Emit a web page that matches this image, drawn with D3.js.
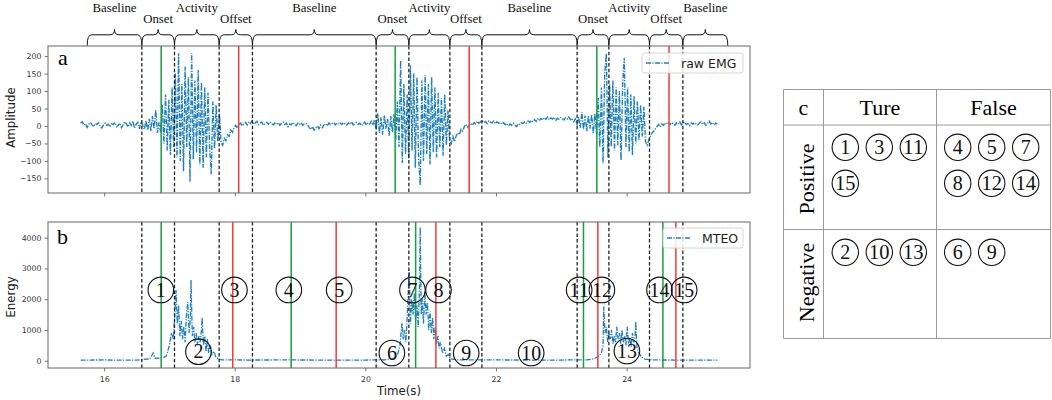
<!DOCTYPE html>
<html><head><meta charset="utf-8">
<script src="https://cdn.jsdelivr.net/npm/d3@7"></script>
<style>body{margin:0;background:#fff} svg{display:block}</style>
</head><body><svg id="c" width="1052" height="400"></svg>
<script>
// ---------------- data ----------------
const xDomain = [15.14, 25.89];
const ampDomain = [-192, 229];
const energyDomain = [-237, 4510];
const xTicks = [16, 18, 20, 22, 24];
const ampTicks = [-150, -100, -50, 0, 50, 100, 150, 200];
const energyTicks = [0, 1000, 2000, 3000, 4000];

const segmentBounds = [15.74, 16.577, 17.077, 17.761, 18.271, 20.165, 20.666, 21.294, 21.784, 23.243, 23.729, 24.351, 24.862, 25.55];
const segmentLabels = ["Baseline", "Onset", "Activity", "Offset", "Baseline", "Onset", "Activity", "Offset", "Baseline", "Onset", "Activity", "Offset", "Baseline"];
const boundaryTimes = [16.577, 17.077, 17.761, 18.271, 20.165, 20.666, 21.294, 21.784, 23.243, 23.729, 24.351, 24.862];
const onsetA = [16.873, 20.456, 23.545];
const offsetA = [18.06, 21.59, 24.65];
const onsetB = [16.873, 18.864, 20.77, 23.34, 24.556];
const offsetB = [17.97, 19.553, 21.08, 23.56, 24.755];

const emgStart = 15.64, emgStep = 0.025;
const emgValues = [
  8, 12, 2, 6, -4, 5, 10, 3, -2, 7, 4, 9, 0, -6, 3, 8, 2, 5, -3, 6,
  4, 10, -2, 1, 8, -5, 3, 12, 6, -3, 9, 2, 14, -6, 5, 10, -8, 12, 3, -10,
  15, -12, 20, -15, 28, -8, 45, -20, 10, -18, 60, -50, 90, -70, 75, -83, 110, -60, 150, -90,
  208, -100, 120, -130, 170, -60, 140, -160, 208, -95, 130, -75, 160, -110, 125, -120, 110, -90, 95, -60,
  -138, 70, -65, 60, -45, 35, -48, -55, -35, -42, -25, -30, -12, -18, -5, 2, -6, 4, 8, 0,
  6, 10, 3, 12, 7, 15, 5, 9, 13, 4, 8, 11, 2, 7, 10, 5, 12, 6, 3, 8,
  5, 9, 2, 7, 11, 4, 8, -2, 6, 3, 10, 5, 1, 8, 4, 9, 2, 6, 7, 3,
  -4, -10, -2, -12, -6, 0, -8, 2, -5, 3, 6, 0, 8, 4, 7, 10, 3, 9, 5, 8,
  4, 10, 6, 2, 9, 5, 12, 3, 7, 10, 4, 8, 1, 6, 11, 3, 9, 5, 14, 2,
  18, -10, 36, -20, 25, -25, 30, -8, 20, -28, 28, -18, 35, -40, 70, -60, 188, -106, 120, -80,
  90, -95, 174, -70, 150, -120, 140, -90, -170, 130, -100, 145, -80, 120, -110, 140, -75, 110, -90, 95,
  -60, 80, -85, 90, -55, 45, -40, -50, -30, -45, -28, -20, -25, -10, -15, -2, 5, -4, 3, 8,
  2, 10, 6, 14, 8, 12, 16, 10, 13, 7, 15, 11, 9, 14, 6, 12, 8, 10, 5, 9,
  4, 7, 0, 5, 2, 8, 3, -2, 6, 4, 9, 7, 12, 8, 14, 10, 16, 12, 18, 13,
  20, 15, 22, 17, 24, 19, 26, 18, 23, 20, 25, 16, 22, 19, 24, 21, 17, 23, 20, 26,
  18, 22, 12, 20, 5, 25, -5, 40, -10, 30, -15, 28, -8, 32, -20, 35, -25, 80, -60, 110,
  -107, 150, 208, -90, 120, -60, 130, -70, 110, -55, 100, -98, 120, 195, -60, 110, -75, 90, -83, 85,
  -50, 70, -40, 60, -30, 55, -45, -55, -40, -30, -20, -15, -8, -2, 4, -3, 6, 2, 9, 5,
  8, 4, 10, 6, 2, 9, 5, 12, 3, 8, 11, 4, 7, 1, 9, 5, 10, 6, 3, 8,
  12, 5, 9, 2, 7, 14, 6, 10, 3, 8, 5
];

const mteoSamples = [
  [15.64, 20], [16.0, 25], [16.3, 18], [16.5, 22], [16.7, 60], [16.75, 250], [16.78, 80], [16.9, 90], [16.95, 150],
  [17.0, 500], [17.03, 900], [17.06, 700], [17.08, 1400], [17.1, 2300], [17.12, 1200], [17.14, 1800], [17.16, 800],
  [17.18, 1300], [17.2, 700], [17.22, 1100], [17.24, 600], [17.26, 1500], [17.28, 1900], [17.3, 900], [17.32, 1400],
  [17.33, 2620], [17.35, 800], [17.37, 1100], [17.39, 600], [17.41, 900], [17.43, 500], [17.45, 800], [17.47, 600],
  [17.49, 1000], [17.5, 1390], [17.52, 500], [17.54, 800], [17.56, 300], [17.58, 700], [17.6, 250], [17.62, 500],
  [17.65, 200], [17.68, 300], [17.71, 120], [17.75, 60], [17.8, 30], [18.2, 22], [18.8, 25], [19.5, 20], [20.0, 22],
  [20.3, 30], [20.45, 80], [20.5, 250], [20.53, 500], [20.56, 1220], [20.58, 700], [20.6, 1000], [20.62, 600],
  [20.64, 1400], [20.67, 2950], [20.69, 1200], [20.71, 2000], [20.73, 1500], [20.75, 2200], [20.77, 1300],
  [20.79, 1800], [20.81, 1100], [20.83, 2500], [20.84, 4340], [20.855, 1500], [20.87, 2000], [20.89, 1200],
  [20.91, 2260], [20.93, 1500], [20.95, 1900], [20.97, 1000], [20.99, 1600], [21.01, 900], [21.03, 1400],
  [21.05, 700], [21.07, 1100], [21.09, 550], [21.11, 800], [21.13, 400], [21.15, 600], [21.18, 250], [21.21, 400],
  [21.24, 150], [21.27, 200], [21.3, 60], [21.4, 30], [22.0, 25], [22.6, 20], [23.0, 22], [23.4, 30], [23.5, 60],
  [23.58, 150], [23.62, 300], [23.64, 500], [23.65, 1760], [23.67, 900], [23.69, 1100], [23.71, 600], [23.73, 900],
  [23.75, 700], [23.77, 1000], [23.79, 550], [23.81, 800], [23.83, 600], [23.85, 1100], [23.87, 700], [23.89, 900],
  [23.91, 550], [23.93, 1000], [23.95, 600], [23.97, 800], [23.99, 500], [24.01, 1100], [24.03, 550], [24.05, 750],
  [24.07, 450], [24.09, 900], [24.11, 600], [24.13, 800], [24.14, 1270], [24.16, 400], [24.19, 250], [24.23, 120],
  [24.28, 50], [24.4, 25], [25.0, 20], [25.39, 20]
];

const markerIds = [1, 2, 3, 4, 5, 6, 7, 8, 9, 10, 11, 12, 13, 14, 15];
const markerTimes = [16.868, 17.444, 17.995, 18.828, 19.599, 20.406, 20.721, 21.12, 21.544, 22.539, 23.274, 23.622, 24.005, 24.504, 24.882];
const markerEnergy = [2300, 293, 2300, 2300, 2300, 250, 2300, 2300, 250, 250, 2300, 2300, 315, 2300, 2300];

const tableCols = ["Ture", "False"];
const tableRows = ["Positive", "Negative"];
const truePositive = [1, 3, 11, 15];
const falsePositive = [4, 5, 7, 8, 12, 14];
const trueNegative = [2, 10, 13];
const falseNegative = [6, 9];

// ---------------- drawing ----------------
const svg = d3.select("#c");
const SERIF = "'Liberation Serif','Times New Roman',serif";
const SANS = "'DejaVu Sans',sans-serif";
const sigColor = "#1f80c0", green = "#13a040", red = "#f23a3a";
const L = 48, R = 750;
const panelA = {top: 46, bottom: 193};
const panelB = {top: 222, bottom: 368};

const x = d3.scaleLinear().domain(xDomain).range([L, R]);
const yA = d3.scaleLinear().domain(ampDomain).range([panelA.bottom, panelA.top]);
const yB = d3.scaleLinear().domain(energyDomain).range([panelB.bottom, panelB.top]);

function styleAxis(g) {
  g.select(".domain").remove();
  g.selectAll(".tick line").attr("stroke", "#555").attr("stroke-width", 0.8);
  g.selectAll(".tick text").attr("fill", "#333").style("font-family", SANS).style("font-size", "7.8px");
}

function clipFor(id, p) {
  svg.append("clipPath").attr("id", id).append("rect")
    .attr("x", L).attr("y", p.top).attr("width", R - L).attr("height", p.bottom - p.top);
}
clipFor("clipA", panelA); clipFor("clipB", panelB);

function vlines(g, times, p, color, dashed) {
  g.selectAll(null).data(times).enter().append("line")
    .attr("x1", d => x(d)).attr("x2", d => x(d))
    .attr("y1", p.top).attr("y2", p.bottom)
    .attr("stroke", color).attr("stroke-width", dashed ? 1.3 : 1.5)
    .attr("stroke-dasharray", dashed ? "3.5,2.2" : null);
}

// Panel A
const gA = svg.append("g");
const emgData = emgValues.map((v, i) => [emgStart + i * emgStep, v]);
gA.append("path").datum(emgData).attr("clip-path", "url(#clipA)")
  .attr("d", d3.line().x(d => x(d[0])).y(d => yA(d[1])))
  .attr("fill", "none").attr("stroke", sigColor).attr("stroke-width", 1.4)
  .attr("stroke-dasharray", "5,1.4,1.2,1.4");
vlines(gA, boundaryTimes, panelA, "#222", true);
vlines(gA, onsetA, panelA, green, false);
vlines(gA, offsetA, panelA, red, false);
gA.append("g").attr("transform", `translate(${L},0)`)
  .call(d3.axisLeft(yA).tickValues(ampTicks).tickSize(3.5).tickPadding(3).tickFormat(d3.format("d"))).call(styleAxis);
gA.append("g").attr("transform", `translate(0,${panelA.bottom})`)
  .call(d3.axisBottom(x).tickValues(xTicks).tickSize(3.5).tickFormat("")).call(styleAxis);
gA.append("rect").attr("x", L).attr("y", panelA.top).attr("width", R - L).attr("height", panelA.bottom - panelA.top)
  .attr("fill", "none").attr("stroke", "#666").attr("stroke-width", 1);
gA.append("text").attr("x", 58).attr("y", 65).text("a")
  .style("font-family", SERIF).style("font-size", "22px");
gA.append("text").attr("transform", `translate(15,${(panelA.top + panelA.bottom) / 2 - 2}) rotate(-90)`)
  .attr("text-anchor", "middle").text("Amplitude").style("font-family", SANS).style("font-size", "11.8px").attr("fill", "#222");

// legend
function legend(g, lx, ly, w, h, label) {
  g.append("rect").attr("x", lx).attr("y", ly).attr("width", w).attr("height", h).attr("rx", 2.5)
    .attr("fill", "#fff").attr("fill-opacity", 0.85).attr("stroke", "#d0d0d0").attr("stroke-width", 0.9);
  g.append("line").attr("x1", lx + 4).attr("x2", lx + 27).attr("y1", ly + h / 2).attr("y2", ly + h / 2)
    .attr("stroke", sigColor).attr("stroke-width", 1.3).attr("stroke-dasharray", "5,1.4,1.2,1.4");
  g.append("text").attr("x", lx + 39).attr("y", ly + h / 2 + 4.5).text(label)
    .style("font-family", SANS).style("font-size", "12.5px").attr("fill", "#222");
}
legend(gA, 642, 53, 101, 20, "raw EMG");

// Braces
const gBr = svg.append("g");
function bracePath(x1, x2) {
  const yb = 45.5, yh = 34.8, yt = 29.5, m = (x1 + x2) / 2, q = 4.5;
  return `M${x1},${yb} Q${x1},${yh} ${x1 + q},${yh} L${m - q},${yh} Q${m},${yh} ${m},${yt} Q${m},${yh} ${m + q},${yh} L${x2 - q},${yh} Q${x2},${yh} ${x2},${yb}`;
}
segmentLabels.forEach((lab, i) => {
  const x1 = x(segmentBounds[i]), x2 = x(segmentBounds[i + 1]);
  gBr.append("path").attr("d", bracePath(x1, x2)).attr("fill", "none").attr("stroke", "#111").attr("stroke-width", 1);
  const top = (lab === "Baseline" || lab === "Activity");
  gBr.append("text").attr("x", (x1 + x2) / 2).attr("y", top ? 11.5 : 23).attr("text-anchor", "middle")
    .text(lab).style("font-family", SERIF).style("font-size", "12.8px").attr("fill", "#111");
});

// Panel B
const gB = svg.append("g");
gB.append("path").datum(mteoSamples).attr("clip-path", "url(#clipB)")
  .attr("d", d3.line().x(d => x(d[0])).y(d => yB(d[1])))
  .attr("fill", "none").attr("stroke", sigColor).attr("stroke-width", 1.3)
  .attr("stroke-dasharray", "5,1.4,1.2,1.4");
vlines(gB, boundaryTimes, panelB, "#222", true);
vlines(gB, onsetB, panelB, green, false);
vlines(gB, offsetB, panelB, red, false);
gB.append("g").attr("transform", `translate(${L},0)`)
  .call(d3.axisLeft(yB).tickValues(energyTicks).tickSize(3.5).tickPadding(3).tickFormat(d3.format("d"))).call(styleAxis);
gB.append("g").attr("transform", `translate(0,${panelB.bottom})`)
  .call(d3.axisBottom(x).tickValues(xTicks).tickSize(3.5).tickPadding(5).tickFormat(d3.format("d"))).call(styleAxis);
gB.append("rect").attr("x", L).attr("y", panelB.top).attr("width", R - L).attr("height", panelB.bottom - panelB.top)
  .attr("fill", "none").attr("stroke", "#666").attr("stroke-width", 1);
gB.append("text").attr("x", 57).attr("y", 244).text("b")
  .style("font-family", SERIF).style("font-size", "22px");
gB.append("text").attr("transform", `translate(15,${(panelB.top + panelB.bottom) / 2 + 2}) rotate(-90)`)
  .attr("text-anchor", "middle").text("Energy").style("font-family", SANS).style("font-size", "11.8px").attr("fill", "#222");
gB.append("text").attr("x", (L + R) / 2).attr("y", 395).attr("text-anchor", "middle").text("Time(s)")
  .style("font-family", SANS).style("font-size", "11.8px").attr("fill", "#222");
legend(gB, 663, 228, 80, 20, "MTEO");

function circled(g, cx, cy, n, r, fs) {
  g.append("circle").attr("cx", cx).attr("cy", cy).attr("r", r).attr("fill", "none").attr("stroke", "#111").attr("stroke-width", 1.1);
  const t = g.append("text").attr("x", cx).attr("y", cy).attr("dy", "0.34em").attr("text-anchor", "middle")
    .text(n).style("font-family", SERIF).style("font-size", fs + "px").attr("fill", "#111");
  if (String(n).length > 1) t.attr("textLength", r * 1.55).attr("lengthAdjust", "spacingAndGlyphs");
}
markerIds.forEach((n, i) => circled(gB, x(markerTimes[i]), yB(markerEnergy[i]), n, 12.8, 20));

// Table c
const gT = svg.append("g");
const colX = [783.5, 823.5, 936.5, 1050.5];
const rowY = [89.5, 125, 229.5, 338.5];
colX.forEach(cx => gT.append("line").attr("x1", cx).attr("x2", cx).attr("y1", rowY[0]).attr("y2", rowY[3]).attr("stroke", "#9a9a9a").attr("stroke-width", 1));
rowY.forEach(ry => gT.append("line").attr("x1", colX[0]).attr("x2", colX[3]).attr("y1", ry).attr("y2", ry).attr("stroke", "#9a9a9a").attr("stroke-width", 1));
gT.append("text").attr("x", (colX[0] + colX[1]) / 2).attr("y", 115).attr("text-anchor", "middle").text("c")
  .style("font-family", SERIF).style("font-size", "22px");
tableCols.forEach((c, i) => gT.append("text").attr("x", (colX[i + 1] + colX[i + 2]) / 2).attr("y", 115)
  .attr("text-anchor", "middle").text(c).style("font-family", SERIF).style("font-size", "22px"));
const rowCenters = [179, 282.5];
tableRows.forEach((r, i) => gT.append("text").attr("transform", `translate(813.5,${rowCenters[i]}) rotate(-90)`)
  .attr("text-anchor", "middle").text(r).style("font-family", SERIF).style("font-size", "22px"));
const cells = [[truePositive, 0, 0], [falsePositive, 1, 0], [trueNegative, 0, 1], [falseNegative, 1, 1]];
const cellX0 = [845.3, 957.7], cellY0 = [147.3, 252.3], pitchX = 34, pitchY = 36;
cells.forEach(([list, ci, ri]) => {
  list.forEach((n, k) => {
    const cx = cellX0[ci] + (k % 3) * pitchX, cy = cellY0[ri] + Math.floor(k / 3) * pitchY;
    circled(gT, cx, cy, n, 13.2, 20);
  });
});
</script>
</body></html>
